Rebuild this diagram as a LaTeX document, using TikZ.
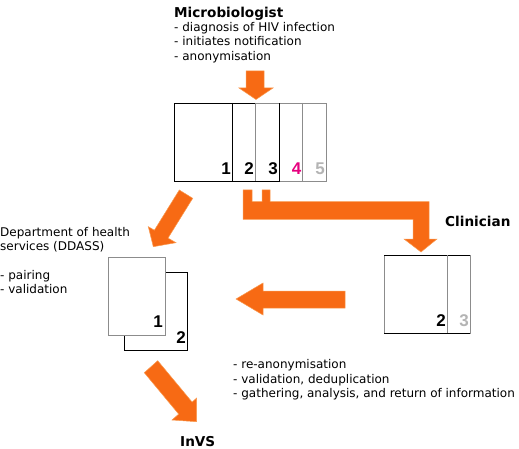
\documentclass[tikz,border=0pt]{standalone}
\usepackage{fontspec}
\setmainfont{DejaVu Sans}
\newfontfamily\digitfont{Liberation Sans}
\definecolor{arrowor}{HTML}{F76A14}
\definecolor{arrowedge}{HTML}{F99A50}
\definecolor{pink4}{HTML}{E6007E}
\definecolor{grey5}{HTML}{B4B4B4}
\definecolor{sheetgrey}{HTML}{8C8C8C}
\begin{document}
\begin{tikzpicture}[x=1pt,y=-1pt,
  txt/.style={inner sep=0pt,anchor=base west,font=\fontsize{12}{14}\selectfont},
  ttl/.style={inner sep=0pt,anchor=base west,font=\fontsize{13.6}{15}\selectfont\bfseries},
  num/.style={inner sep=0pt,anchor=base east,font=\digitfont\fontsize{17}{19}\selectfont\bfseries},
  sheet/.style={draw=black,line width=0.8pt},
  gsheet/.style={draw=sheetgrey,line width=0.8pt},
  fat/.style={fill=arrowor,draw=arrowedge,line width=0.5pt,line join=miter}]
\useasboundingbox (0,0) rectangle (519,449);
% Microbiologist text
\node[ttl] (mtitle) at (174,17.5) {Microbiologist};
\node[txt] (m1) at (174,31.5) {- diagnosis of HIV infection};
\node[txt] (m2) at (174,46) {- initiates notification};
\node[txt] (m3) at (174,60.5) {- anonymisation};
% top arrow
\draw[fat] (246,71) -- (264,71) -- (264,88) -- (273,88) -- (256,99.5) -- (239,88) -- (246,88) -- cycle;
% top form
\draw[gsheet] (255,103) -- (326,103) -- (326,181) -- (279,181);
\draw[gsheet] (302,103) -- (302,181);
\draw[gsheet] (255,103) -- (255,181);
\draw[sheet] (255,103) -- (174,103) -- (174,181) -- (279,181) -- (279,103);
\draw[sheet] (232,103) -- (232,181);
\node[num] (t1) at (231,175) {1};
\node[num] (t2) at (254,175) {2};
\node[num] (t3) at (278,175) {3};
\node[num,text=pink4] (t4) at (301.5,175) {4};
\node[num,text=grey5] (t5) at (325,175) {5};
% connector to clinician
\draw[fat] (243,190) -- (252,190) -- (252,201.7) -- (262,201.7) -- (262,190) -- (270,190) -- (270,201.7)
  -- (429,201.7) -- (429,239) -- (437,239) -- (421,252) -- (404,239) -- (413,239) -- (413,219.3) -- (243,219.3) -- cycle;
\node[ttl] (clin) at (445,226) {Clinician};
% clinician form
\draw[gsheet] (384,255) rectangle (470,333);
\draw[sheet] (384,255) -- (470,255);
\draw[sheet] (384,333) -- (470,333);
\draw[gsheet] (447,255) -- (447,333);
\node[num] (c2) at (446,326) {2};
\node[num,text=grey5] (c3) at (469,326) {3};
% left arrow
\draw[fat] (345,291) -- (263,291) -- (263,283) -- (236,299) -- (263,315) -- (263,308) -- (345,308) -- cycle;
% diagonal arrow to DDASS
\draw[fat] (179.3,190) -- (192.7,198.3) -- (168,238.1) -- (176,242.7) -- (153.3,246.7) -- (148.3,226.7) -- (154.4,230.2) -- cycle;
% DDASS text
\node[txt] (d1) at (0,236) {Department of health};
\node[txt] (d2) at (0,250) {services (DDASS)};
\node[txt] (d3) at (0,279) {- pairing};
\node[txt] (d4) at (0,293) {- validation};
% DDASS forms
\draw[sheet] (124,272) rectangle (187,350);
\fill[white] (108,257) rectangle (165,335);
\draw[gsheet] (108,257) rectangle (165,335);
\node[num] (f1) at (163,327) {1};
\node[num] (f2) at (186,343) {2};
% arrow to InVS
\draw[fat] (144.3,372.7) -- (157.7,360.7) -- (192.1,402.1) -- (196.7,398) -- (196.7,421.7) -- (172,420) -- (178.7,414.1) -- cycle;
% InVS text
\node[txt] (i1) at (233,368) {- re-anonymisation};
\node[txt] (i2) at (233,383) {- validation, deduplication};
\node[txt] (i3) at (233,397) {- gathering, analysis, and return of information};
\node[ttl] (invs) at (180,446) {InVS};
\end{tikzpicture}
\end{document}
